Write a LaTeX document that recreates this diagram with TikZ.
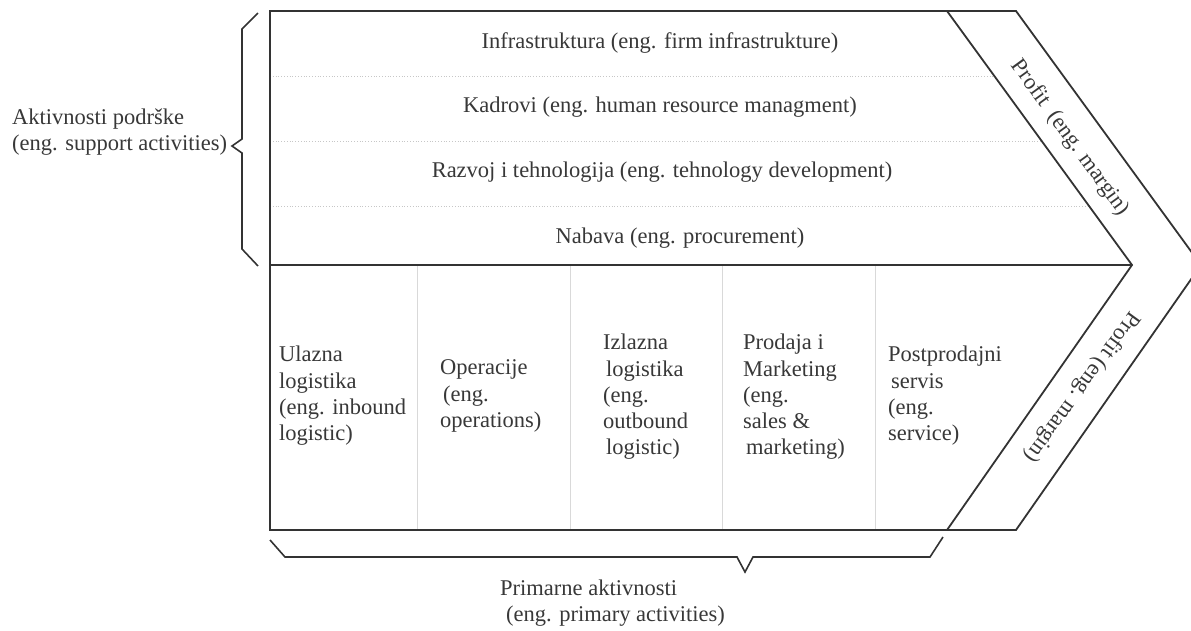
\documentclass[tikz,border=0pt]{standalone}
\usepackage{fontspec}
\setmainfont{Liberation Serif}
\begin{document}
\begin{tikzpicture}[x=1pt,y=-1pt,
  txt/.style={text=black!78, inner sep=0pt, font=\fontsize{22.5}{26.3}\selectfont},
  coltxt/.style={txt, anchor=west, align=left},
  frame/.style={draw=black!80, line width=1.8pt, line join=miter},
  divline/.style={draw=black!22, line width=0.8pt, dotted},
  colline/.style={draw=black!15, line width=0.8pt},
  bracestyle/.style={draw=black!80, line width=1.6pt, line join=miter}]
\useasboundingbox (0,0) rectangle (1191,630);
\begin{scope}
\clip (0,0) rectangle (1191,630);
% row dividers
\draw[divline] (270,76) -- (994,76);
\draw[divline] (270,141) -- (1042,141);
\draw[divline] (270,206) -- (1089,206);
% column dividers
\foreach \cx in {417,570,722,875} \draw[colline] (\cx,265) -- (\cx,530);
% frame
\draw[frame] (270,11) -- (1016,11) -- (1201,265) -- (1016,530) -- (270,530) -- cycle;
\draw[frame] (947,11) -- (1132,265) -- (947,530);
\draw[frame] (270,265) -- (1132,265);
\end{scope}
% braces
\draw[bracestyle] (258,13) -- (242,29) -- (242,139) -- (232,146) -- (242,153) -- (242,249) -- (258,266);
\draw[bracestyle] (270,540) -- (285,557) -- (737,557) -- (745,572) -- (753,557) -- (930,557) -- (943,537);
% row texts
\node[txt] (infra) at (660,43) {Infrastruktura (eng. firm infrastrukture)};
\node[txt] (kadr) at (660,107) {Kadrovi (eng. human resource managment)};
\node[txt] (razv) at (662,172) {Razvoj i tehnologija (eng. tehnology development)};
\node[txt] (nab) at (680,238) {Nabava (eng. procurement)};
% column texts
\node[coltxt] (c1) at (279,396) {Ulazna\\logistika\\(eng. inbound\\logistic)};
\node[coltxt] (c2) at (440,396) {Operacije\\\hspace*{3pt}(eng.\\operations)};
\node[coltxt] (c3) at (603,397) {Izlazna\\\hspace*{3pt}logistika\\(eng.\\outbound\\\hspace*{3pt}logistic)};
\node[coltxt] (c4) at (743,397) {Prodaja i\\Marketing\\(eng.\\sales \&\\\hspace*{3pt}marketing)};
\node[coltxt] (c5) at (888,396) {Postprodajni\\\hspace*{3pt}servis\\(eng.\\service)};
% side labels
\node[coltxt] (sup) at (12,132) {Aktivnosti podrške\\(eng. support activities)};
\node[coltxt] (prim) at (500,603) {Primarne aktivnosti\\\hspace*{6pt}(eng. primary activities)};
% profit labels
\node[txt, rotate=-54] (p1) at (1070,138) {Profit\ \ (eng. margin)};
\node[txt, rotate=234] (p2) at (1082,387) {Profit (eng. margin)};
\end{tikzpicture}
\end{document}
